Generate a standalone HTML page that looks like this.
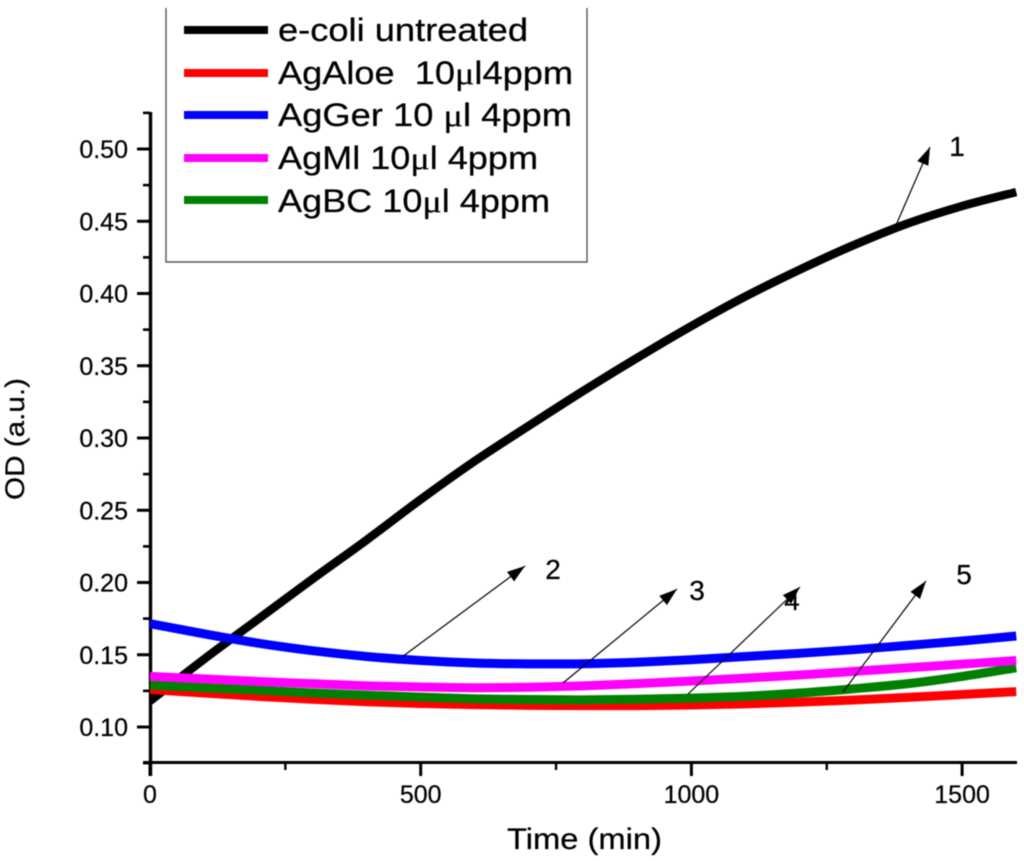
<!DOCTYPE html>
<html>
<head>
<meta charset="utf-8">
<title>OD vs Time</title>
<style>
html,body{margin:0;padding:0;background:#fff;}
svg{display:block;filter:blur(0.55px);}
text{font-family:"Liberation Sans",sans-serif;fill:#000;stroke:#000;stroke-width:0.25px;}
.mu{font-family:"Liberation Serif",serif;}
</style>
</head>
<body>
<svg id="chart" width="1024" height="861" viewBox="0 0 1024 861" xmlns="http://www.w3.org/2000/svg">
  <defs>
    <clipPath id="plot-clip"><rect x="150" y="100" width="867" height="663"/></clipPath>
    <marker id="arrow-head" markerUnits="userSpaceOnUse" markerWidth="20" markerHeight="14" refX="18" refY="6" orient="auto">
      <path d="M0,0 L18,6 L0,12 Z" fill="#000"/>
    </marker>
  </defs>
  <g id="axes"></g>
  <g id="series" clip-path="url(#plot-clip)"></g>

  <g>
    <path d="M166,8 V262 H587 V8" fill="none" stroke="#555" stroke-width="1.4"/>
    <line x1="184" x2="268" y1="30" y2="30" stroke="#000" stroke-width="8"/>
    <text x="278" y="41" font-size="32" textLength="250" lengthAdjust="spacingAndGlyphs">e-coli untreated</text>
    <line x1="184" x2="268" y1="73" y2="73" stroke="#f00" stroke-width="8"/>
    <text x="278" y="84" font-size="32" textLength="295" lengthAdjust="spacingAndGlyphs" xml:space="preserve" style="white-space:pre">AgAloe  10<tspan class="mu">μ</tspan>l4ppm</text>
    <line x1="184" x2="268" y1="115" y2="115" stroke="#00f" stroke-width="8"/>
    <text x="278" y="126" font-size="32" textLength="294" lengthAdjust="spacingAndGlyphs">AgGer 10 <tspan class="mu">μ</tspan>l 4ppm</text>
    <line x1="184" x2="268" y1="158" y2="158" stroke="#f0f" stroke-width="8"/>
    <text x="278" y="169" font-size="32" textLength="260" lengthAdjust="spacingAndGlyphs">AgMl 10<tspan class="mu">μ</tspan>l 4ppm</text>
    <line x1="184" x2="268" y1="200" y2="200" stroke="#008000" stroke-width="8"/>
    <text x="278" y="212" font-size="32" textLength="272" lengthAdjust="spacingAndGlyphs">AgBC 10<tspan class="mu">μ</tspan>l 4ppm</text>
  </g>

  <g stroke="#000" stroke-width="1.2">
    <line x1="893" y1="232" x2="930" y2="147" marker-end="url(#arrow-head)"/>
    <line x1="402" y1="657" x2="525" y2="566" marker-end="url(#arrow-head)"/>
    <line x1="563" y1="683" x2="677" y2="589" marker-end="url(#arrow-head)"/>
    <line x1="688" y1="694" x2="800" y2="587" marker-end="url(#arrow-head)"/>
    <line x1="843" y1="692" x2="926" y2="581" marker-end="url(#arrow-head)"/>
  </g>
  <g font-size="28" text-anchor="middle">
    <text x="957" y="156">1</text>
    <text x="553" y="579">2</text>
    <text x="697" y="600">3</text>
    <text x="792" y="610">4</text>
    <text x="964" y="584">5</text>
  </g>

  <text x="507" y="849" font-size="30" textLength="155" lengthAdjust="spacingAndGlyphs">Time (min)</text>
  <text transform="translate(24,500) rotate(-90)" font-size="27" textLength="122" lengthAdjust="spacingAndGlyphs">OD (a.u.)</text>
</svg>

<script>
var timeMin = [0,100,200,300,400,500,600,700,800,900,1000,1100,1200,1300,1400,1500,1600];
var untreated = [0.118,0.147,0.1747,0.2024,0.2294,0.2575,0.2841,0.3085,0.3325,0.3555,0.3775,0.398,0.4165,0.4335,0.4485,0.4605,0.4702];
var agAloe = [0.126,0.1235,0.1212,0.1192,0.1175,0.1163,0.1155,0.115,0.1148,0.1148,0.1152,0.116,0.1172,0.1187,0.1205,0.1225,0.1245];
var agGer = [0.1715,0.1645,0.158,0.1528,0.1488,0.146,0.1443,0.1437,0.1438,0.1448,0.1465,0.1488,0.151,0.1535,0.1565,0.1595,0.163];
var agMl = [0.135,0.1333,0.1315,0.13,0.1285,0.1277,0.1272,0.1275,0.1285,0.13,0.1318,0.1338,0.136,0.1385,0.141,0.1435,0.146];
var agBC = [0.129,0.1272,0.1255,0.1235,0.122,0.1207,0.1195,0.119,0.1188,0.1192,0.12,0.1213,0.1235,0.1265,0.13,0.135,0.141];
var xMajorTicks = [0,500,1000,1500];
var xMinorTicks = [250,750,1250];
var yMajorTicks = [0.10,0.15,0.20,0.25,0.30,0.35,0.40,0.45,0.50];
var yMinorTicks = [0.075,0.125,0.175,0.225,0.275,0.325,0.375,0.425,0.475,0.525];

var NS = 'http://www.w3.org/2000/svg';
function xScale(v){ return 150 + v * 270.7 / 500; }
function yScale(v){ return 727 - (v - 0.10) * 1445; }

var axes = document.getElementById('axes');
var seriesGroup = document.getElementById('series');

function addLine(parent, x1, y1, x2, y2, width){
  var el = document.createElementNS(NS, 'line');
  el.setAttribute('x1', x1);
  el.setAttribute('y1', y1);
  el.setAttribute('x2', x2);
  el.setAttribute('y2', y2);
  el.setAttribute('stroke', '#000');
  el.setAttribute('stroke-width', width);
  parent.appendChild(el);
  return el;
}
function addText(parent, x, y, str, anchor){
  var el = document.createElementNS(NS, 'text');
  el.setAttribute('x', x);
  el.setAttribute('y', y);
  el.setAttribute('font-size', '25');
  el.setAttribute('text-anchor', anchor);
  el.textContent = str;
  parent.appendChild(el);
  return el;
}
function smoothPath(xs, ys){
  var d = 'M' + xScale(xs[0]) + ',' + yScale(ys[0]);
  for (var i = 0; i < xs.length - 1; i++){
    var i0 = Math.max(i - 1, 0), i3 = Math.min(i + 2, xs.length - 1);
    var p0x = xScale(xs[i0]), p0y = yScale(ys[i0]);
    var p1x = xScale(xs[i]), p1y = yScale(ys[i]);
    var p2x = xScale(xs[i + 1]), p2y = yScale(ys[i + 1]);
    var p3x = xScale(xs[i3]), p3y = yScale(ys[i3]);
    d += ' C' + (p1x + (p2x - p0x) / 6) + ',' + (p1y + (p2y - p0y) / 6) + ' ' +
         (p2x - (p3x - p1x) / 6) + ',' + (p2y - (p3y - p1y) / 6) + ' ' + p2x + ',' + p2y;
  }
  return d;
}

var yAxisLine = addLine(axes, 150.5, 112, 150.5, 776, 3.4);


var xAxisLine = addLine(axes, 143, 762.5, 1017, 762.5, 3);



yMajorTicks.forEach(function(v){
  var t = addLine(axes, 137, yScale(v), 150, yScale(v), 3);
  
  
  var l = addText(axes, 128, yScale(v) + 9, v.toFixed(2), 'end');
  
  
});
yMinorTicks.forEach(function(v){
  var t = addLine(axes, 143, yScale(v), 150, yScale(v), 2.6);
  
  
});
xMajorTicks.forEach(function(v){
  var t = addLine(axes, xScale(v), 762, xScale(v), 776, 3);
  
  
  var l = addText(axes, xScale(v), 803, String(v), 'middle');
  
  
});
xMinorTicks.forEach(function(v){
  var t = addLine(axes, xScale(v), 762, xScale(v), 770, 2.4);
  
  
});

function addSeries(values, color, width){
  var el = document.createElementNS(NS, 'path');
  el.setAttribute('d', smoothPath(timeMin, values));
  el.setAttribute('fill', 'none');
  el.setAttribute('stroke', color);
  el.setAttribute('stroke-width', width);
  seriesGroup.appendChild(el);
  return el;
}
var s1 = addSeries(untreated, '#000', 8.5);


var s2 = addSeries(agAloe, '#f00', 9);


var s3 = addSeries(agGer, '#00f', 9);


var s4 = addSeries(agBC, '#008000', 9);


var s5 = addSeries(agMl, '#f0f', 9);


</script>
</body>
</html>
